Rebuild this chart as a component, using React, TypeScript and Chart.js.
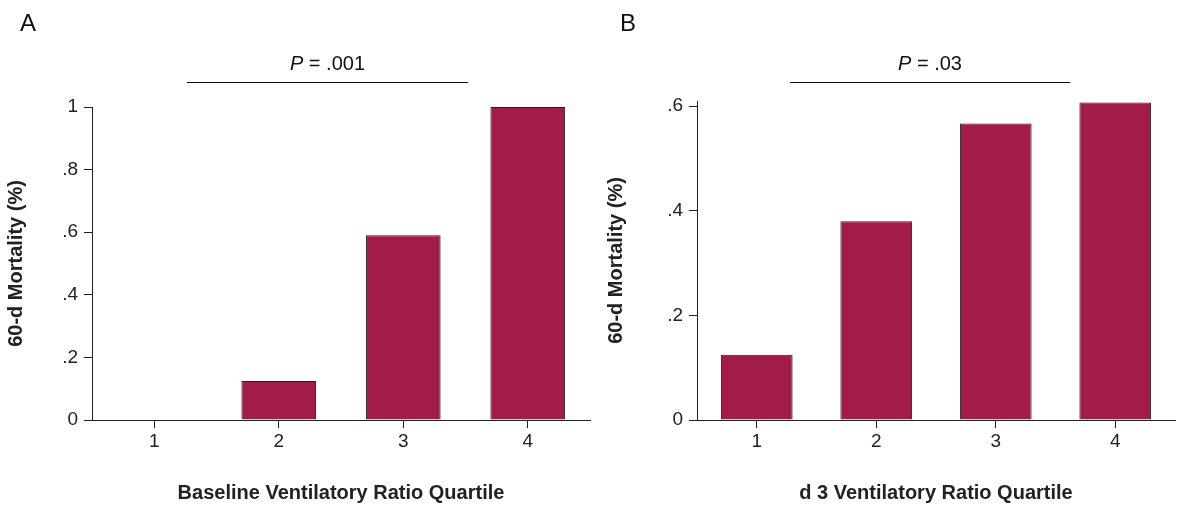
import React, { useEffect, useRef } from "react";
import { Chart, registerables } from "chart.js";
Chart.register(...registerables);

const quartiles = ["1", "2", "3", "4"];
const baselineMortality = [0, 0.125, 0.59, 1.0];
const day3Mortality = [0.125, 0.38, 0.567, 0.607];
const ticksA = [0, 0.2, 0.4, 0.6, 0.8, 1];
const ticksB = [0, 0.2, 0.4, 0.6];

const FONT = "'Liberation Sans', Arial, sans-serif";
const fmt = (v: number) => (v === 0 ? "0" : v === 1 ? "1" : String(+v.toFixed(1)).replace(/^0/, ""));

function Panel(props: { left: number; letter: string; data: number[]; ticks: number[]; max: number; ptext: string; xtitle: string; axisW: number; padR: number; lineFrom: number; lineTo: number }) {
  const ref = useRef<HTMLCanvasElement>(null);
  useEffect(() => {
    const p = props;
    const overlay = {
      id: "overlay",
      afterDraw(chart: any) {
        const ctx = chart.ctx;
        ctx.save();
        ctx.fillStyle = "#111";
        ctx.font = `24px ${FONT}`;
        ctx.textBaseline = "top";
        ctx.textAlign = "left";
        ctx.fillText(p.letter, 20, 12);
        ctx.strokeStyle = "#111";
        ctx.lineWidth = 1.2;
        ctx.beginPath();
        ctx.moveTo(p.lineFrom, 82.5);
        ctx.lineTo(p.lineTo, 82.5);
        ctx.stroke();
        const cx = (p.lineFrom + p.lineTo) / 2;
        ctx.font = `italic 20px ${FONT}`;
        const pw = ctx.measureText("P").width;
        ctx.font = `20px ${FONT}`;
        const rest = " = " + p.ptext;
        const rw = ctx.measureText(rest).width;
        const sx = cx - (pw + rw) / 2;
        ctx.textBaseline = "alphabetic";
        ctx.font = `italic 20px ${FONT}`;
        ctx.fillText("P", sx, 70);
        ctx.font = `20px ${FONT}`;
        ctx.fillText(rest, sx + pw, 70);
        ctx.restore();
      },
    };
    const chart = new Chart(ref.current!, {
      type: "bar",
      data: {
        labels: quartiles,
        datasets: [{ data: p.data, backgroundColor: "#A31C48", borderColor: "#222", borderWidth: 1, barPercentage: 0.6, categoryPercentage: 1 }],
      },
      options: {
        animation: false,
        responsive: false,
        layout: { padding: { top: p.max === 1 ? 107 : 101, right: p.padR, left: 0, bottom: 0 } },
        plugins: { legend: { display: false }, tooltip: { enabled: false } },
        scales: {
          x: {
            offset: true,
            grid: { display: true, drawOnChartArea: false, offset: false, tickLength: 8, color: "#222" },
            border: { color: "#222" },
            ticks: { color: "#222", font: { family: FONT, size: 19 }, padding: 2 },
            title: { display: true, text: p.xtitle, color: "#222", font: { family: FONT, size: 20, weight: "bold" }, padding: { top: 6 } },
            afterFit: (s: any) => { s.height = 89; },
          },
          y: {
            min: 0,
            max: p.max,
            afterBuildTicks: (s: any) => { s.ticks = p.ticks.map((v) => ({ value: v })); },
            grid: { display: true, drawOnChartArea: false, tickLength: 8, color: "#222" },
            border: { color: "#222" },
            ticks: { color: "#222", font: { family: FONT, size: 19 }, padding: 6, callback: (v: any) => fmt(Number(v)) },
            title: { display: true, text: "60-d Mortality (%)", color: "#222", font: { family: FONT, size: 20, weight: "bold" }, padding: { bottom: 4 } },
            afterFit: (s: any) => { s.width = p.axisW; },
          },
        },
      },
      plugins: [overlay],
    } as any);
    return () => chart.destroy();
  }, []);
  return <canvas ref={ref} width={600} height={509} style={{ position: "absolute", left: props.left, top: 0, width: 600, height: 509 }} />;
}

export default function App() {
  return (
    <div style={{ position: "absolute", left: 0, top: 0, width: 1200, height: 509, background: "#fff" }}>
      <Panel left={0} letter="A" data={baselineMortality} ticks={ticksA} max={1} ptext=".001" xtitle="Baseline Ventilatory Ratio Quartile" axisW={92} padR={10} lineFrom={187} lineTo={468} />
      <Panel left={600} letter="B" data={day3Mortality} ticks={ticksB} max={0.61} ptext=".03" xtitle="d 3 Ventilatory Ratio Quartile" axisW={97} padR={25} lineFrom={190} lineTo={470} />
    </div>
  );
}
